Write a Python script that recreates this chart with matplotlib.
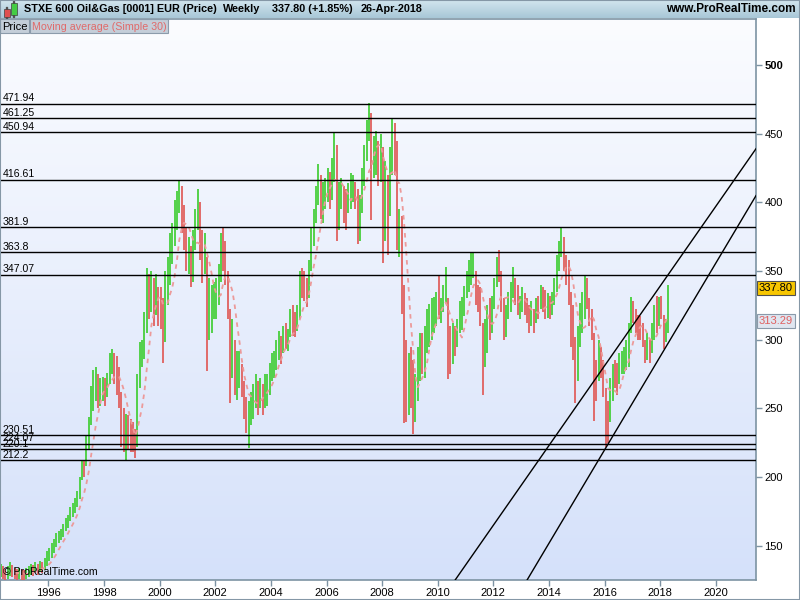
import datetime
import matplotlib
matplotlib.use("Agg")
import matplotlib.pyplot as plt
import matplotlib.dates as mdates
from matplotlib.colors import LinearSegmentedColormap
from matplotlib.patches import Rectangle
from matplotlib.transforms import blended_transform_factory
import numpy as np
import pandas as pd

plt.rcParams['font.family'] = ['Liberation Sans', 'DejaVu Sans']

# monthly bars Apr-1994 .. Apr-2018 (one row per year)
close = [
    132, 130, 128, 131, 133, 131, 130, 128, 130,
    129, 128, 130, 131, 133, 132, 134, 133, 135, 134, 137, 140,
    144, 148, 150, 154, 157, 158, 161, 165, 168, 173, 176, 180,
    185, 195, 206, 204, 222, 238, 260, 262, 272, 262, 264, 266,
    262, 270, 284, 286, 278, 270, 262, 235, 232, 238, 230, 228,
    225, 222, 268, 290, 292, 310, 340, 335, 338, 325, 335, 328,
    318, 300, 335, 345, 368, 372, 385, 398, 405, 390, 378, 360,
    362, 350, 365, 385, 395, 370, 360, 360, 305, 320, 325, 330,
    335, 345, 368, 365, 355, 328, 290, 295, 268, 275, 278, 265,
    250, 240, 248, 255, 258, 265, 258, 262, 255, 265, 268, 278,
    282, 285, 290, 300, 295, 305, 300, 302, 315, 312, 310, 318,
    345, 340, 335, 332, 352, 375, 390, 405, 418, 400, 408, 412,
    418, 412, 425, 440, 395, 400, 410, 398, 392, 405, 410, 412,
    405, 385, 400, 420, 435, 455, 460, 425, 440, 445, 430, 440,
    395, 410, 395, 430, 452, 445, 380, 385, 340, 270, 265, 270,
    265, 245, 258, 285, 295, 290, 300, 312, 318, 318, 322, 328,
    322, 325, 335, 340, 290, 285, 298, 295, 305, 318, 320, 335,
    345, 350, 352, 355, 335, 330, 315, 285, 292, 318, 315, 325,
    340, 352, 348, 325, 305, 318, 328, 335, 340, 330, 325, 325,
    330, 322, 320, 315, 318, 312, 325, 322, 332, 330, 325, 328,
    322, 330, 340, 355, 365, 372, 360, 350, 335, 315, 295, 280,
    295, 318, 320, 340, 330, 315, 305, 275, 265, 285, 280, 265,
    245, 240, 262, 275, 272, 270, 280, 285, 288, 292, 305, 325,
    318, 312, 308, 305, 298, 290, 300, 290, 308, 318, 315, 325,
    322, 300, 305, 337.8,
]
low = [
    127, 126, 125, 126, 128, 127, 126, 125, 126,
    125, 125, 126, 127, 129, 128, 130, 129, 131, 130, 132, 135,
    139, 141, 145, 149, 152, 154, 156, 161, 163, 168, 171, 174,
    178, 184, 198, 200, 208, 220, 238, 248, 255, 250, 252, 255,
    252, 258, 268, 275, 268, 260, 250, 222, 218, 212, 220, 218,
    218, 214, 222, 265, 280, 286, 305, 315, 320, 310, 318, 310,
    308, 283, 298, 325, 340, 355, 368, 380, 392, 378, 365, 350,
    348, 338, 342, 365, 380, 358, 341, 348, 277, 300, 305, 315,
    315, 325, 342, 350, 340, 315, 254, 272, 260, 256, 265, 258,
    242, 232, 221, 238, 242, 250, 245, 250, 245, 250, 252, 260,
    270, 272, 278, 285, 282, 290, 293, 292, 302, 303, 302, 306,
    315, 330, 328, 324, 330, 350, 368, 385, 398, 388, 385, 395,
    400, 395, 402, 415, 372, 380, 395, 385, 380, 392, 395, 400,
    395, 370, 372, 392, 412, 430, 445, 387, 418, 420, 412, 415,
    356, 372, 362, 390, 420, 420, 365, 360, 319, 239, 240, 245,
    250, 231, 240, 255, 270, 275, 272, 290, 295, 300, 305, 310,
    315, 312, 320, 326, 271, 275, 282, 288, 295, 305, 307, 317,
    330, 335, 340, 345, 325, 320, 310, 260, 280, 290, 300, 305,
    322, 338, 342, 320, 300, 302, 315, 320, 330, 325, 318, 315,
    320, 318, 312, 305, 310, 305, 312, 315, 322, 320, 315, 316,
    315, 318, 325, 335, 350, 360, 350, 340, 325, 295, 285, 254,
    270, 295, 305, 315, 322, 310, 300, 241, 255, 270, 272, 258,
    222, 225, 240, 255, 265, 260, 268, 275, 275, 278, 280, 305,
    312, 305, 300, 300, 295, 283, 285, 283, 290, 300, 305, 310,
    315, 293, 298, 305,
]
high = [
    137, 135, 133, 135, 138, 136, 134, 133, 134,
    133, 132, 134, 135, 137, 136, 138, 137, 139, 138, 141, 146,
    148, 152, 155, 159, 161, 162, 166, 170, 172, 178, 181, 185,
    190, 200, 212, 212, 230, 244, 266, 278, 280, 275, 272, 273,
    272, 276, 290, 293, 290, 288, 280, 262, 250, 246, 245, 242,
    240, 235, 275, 298, 300, 320, 352, 348, 350, 345, 348, 338,
    338, 330, 350, 360, 378, 385, 402, 408, 416, 412, 398, 382,
    375, 368, 380, 395, 410, 400, 380, 378, 360, 345, 340, 342,
    345, 355, 378, 381, 372, 350, 322, 315, 300, 292, 292, 282,
    270, 258, 255, 262, 268, 275, 270, 272, 268, 275, 275, 283,
    290, 292, 300, 306, 303, 310, 312, 308, 322, 325, 320, 325,
    350, 352, 350, 345, 358, 382, 395, 412, 428, 420, 415, 418,
    425, 422, 432, 451, 442, 415, 418, 412, 410, 414, 421, 420,
    415, 410, 405, 425, 442, 460, 472, 465, 448, 452, 445, 450,
    440, 430, 420, 440, 461, 458, 445, 395, 390, 340, 300, 290,
    295, 285, 275, 295, 305, 305, 310, 322, 326, 330, 331, 335,
    346, 330, 340, 353, 330, 310, 312, 310, 315, 328, 331, 339,
    350, 358, 363, 364, 350, 340, 338, 312, 315, 325, 330, 332,
    345, 360, 365, 350, 330, 325, 335, 342, 353, 345, 340, 332,
    338, 334, 330, 325, 328, 322, 330, 332, 340, 338, 336, 334,
    332, 335, 345, 362, 372, 381, 375, 362, 358, 335, 325, 302,
    310, 327, 335, 346, 345, 330, 322, 305, 285, 300, 295, 285,
    265, 255, 272, 282, 285, 283, 290, 292, 295, 300, 312, 331,
    328, 322, 318, 317, 312, 300, 305, 300, 312, 325, 332, 331,
    332, 318, 315, 340,
]
first_month = "1994-04-01"

levels = [471.94, 461.25, 450.94, 416.61, 381.9, 363.8, 347.07, 230.51, 224.07, 220.1, 212.2]
upper_channel = [("2010-08-18", 125.0), ("2021-06-10", 438.8)]
lower_channel = [("2013-03-20", 125.0), ("2021-06-10", 404.6)]

last_close = 337.80
last_change = 1.85
last_ma = 313.29
ma_window = 7  # 30 weeks ~ 7 months
year_ticks = list(range(1996, 2021, 2))
price_ticks = list(range(150, 501, 50))

GREEN = '#47cf3c'
RED = '#e0605e'
FRAME = '#7d93a3'

W, H = 800, 600


def fx(px):
    return px / W


def fy(py):
    return 1 - py / H


dates = pd.date_range(first_month, periods=len(close), freq="MS") + pd.Timedelta(days=14)
x = mdates.date2num(dates.to_pydatetime())
c = np.array(close, dtype=float)
lo = np.array(low, dtype=float)
hi = np.array(high, dtype=float)
op = np.concatenate([[c[0]], c[:-1]])
up = c >= op
ma = pd.Series(c).rolling(ma_window).mean().values

fig = plt.figure(figsize=(8, 6), dpi=100)
fig.patch.set_facecolor('white')

L, R, T, B = 0, 756, 19, 580
rect = [fx(L), fy(B), fx(R) - fx(L), fy(T) - fy(B)]

# plot background gradient
bg = fig.add_axes(rect, zorder=0)
bg_cmap = LinearSegmentedColormap.from_list('bg', ['#d5e1fa', '#fbfcff'])
bg.imshow(np.linspace(0, 1, 256)[:, None], cmap=bg_cmap, aspect='auto',
          extent=[0, 1, 0, 1], origin='lower')
bg.axis('off')

ax = fig.add_axes(rect, zorder=1)
ax.patch.set_alpha(0)

ax.vlines(x[up], lo[up], hi[up], color=GREEN, lw=1.3, zorder=3)
ax.vlines(x[~up], lo[~up], hi[~up], color=RED, lw=1.3, zorder=3)
ax.plot(x, ma, color='#ec9a9a', lw=1.3, dashes=(2.5, 2.5), zorder=4)

trans_lv = blended_transform_factory(ax.transAxes, ax.transData)
for lv in levels:
    ax.axhline(lv, color='black', lw=1.0, zorder=5)
    ax.text(0.003, lv + 0.4, str(lv), transform=trans_lv, fontsize=7.6,
            va='bottom', ha='left', zorder=6)

for chan in (upper_channel, lower_channel):
    (d0, v0), (d1, v1) = chan
    ax.axline((mdates.datestr2num(d0), v0), (mdates.datestr2num(d1), v1),
              color='black', lw=1.0, zorder=5)

ax.set_xlim(mdates.datestr2num("1994-04-05"), mdates.datestr2num("2021-06-13"))
ax.set_ylim(125, 533.5)

ax.set_xticks([mdates.date2num(datetime.date(y, 1, 1)) for y in year_ticks],
              labels=[str(y) for y in year_ticks])
ax.yaxis.tick_right()
ax.set_yticks(price_ticks, labels=[str(v) for v in price_ticks])
for lab in ax.get_yticklabels():
    if lab.get_text() == '500':
        lab.set_fontweight('bold')
ax.tick_params(axis='both', length=4, width=1, color=FRAME, labelsize=8, pad=2)
for sp in ax.spines.values():
    sp.set_color(FRAME)
    sp.set_linewidth(1.2)

ax.text(0.004, 0.006, "\u00a9 ProRealTime.com", transform=ax.transAxes,
        fontsize=7.6, va='bottom', ha='left', zorder=6)

# last value boxes on the right axis
trans_r = blended_transform_factory(ax.transAxes, ax.transData)
ax.text(1.004, last_close, f"{last_close:.2f}", transform=trans_r, fontsize=8,
        va='center', ha='left', clip_on=False, zorder=7,
        bbox=dict(boxstyle='square,pad=0.18', fc='#f7c600', ec='#505050', lw=0.8))
ax.text(1.004, last_ma, f"{last_ma:.2f}", transform=trans_r, fontsize=8,
        color='#e06060', va='center', ha='left', clip_on=False, zorder=7,
        bbox=dict(boxstyle='square,pad=0.18', fc='#dfe6f0', ec='#8a9aaa', lw=0.8))

# header bar
hdr = fig.add_axes([0, fy(18), 1, 18 / H], zorder=2)
hdr_cmap = LinearSegmentedColormap.from_list('hdr', ['#a8c7d7', '#d2e5ee'])
hdr.imshow(np.linspace(0, 1, 64)[:, None], cmap=hdr_cmap, aspect='auto',
           extent=[0, 1, 0, 1], origin='lower')
hdr.axis('off')

# candle icon
fig.add_artist(Rectangle((fx(6), fy(19)), fx(1), 12 / H, color='#505050', zorder=8))
fig.add_artist(Rectangle((fx(3.5), fy(17)), fx(6), 8 / H, fc='#e05050', ec='#404040', lw=0.5, zorder=9))
fig.add_artist(Rectangle((fx(13), fy(17)), fx(1), 16 / H, color='#505050', zorder=8))
fig.add_artist(Rectangle((fx(10.5), fy(15)), fx(6), 12 / H, fc='#44cc44', ec='#404040', lw=0.5, zorder=9))

hy = fy(9.5)
hsize = 7.8
fig.text(fx(24), hy, "STXE 600 Oil&Gas [0001] EUR (Price)", fontsize=hsize,
         weight='bold', va='center', zorder=10)
fig.text(fx(223), hy, "Weekly", fontsize=hsize, weight='bold', va='center', zorder=10)
fig.text(fx(272), hy, f"{last_close:.2f} (+{last_change:.2f}%)", fontsize=hsize,
         weight='bold', va='center', zorder=10)
fig.text(fx(361), hy, "26-Apr-2018", fontsize=hsize, weight='bold', va='center', zorder=10)
fig.text(fx(796), hy, "www.ProRealTime.com", fontsize=8.5, weight='bold',
         va='center', ha='right', zorder=10)

# legend boxes
fig.add_artist(Rectangle((fx(0), fy(33)), fx(29), 14 / H, fc='#c4ced9', ec='#8b9bab', lw=0.8, zorder=8))
fig.add_artist(Rectangle((fx(30), fy(33)), fx(138), 14 / H, fc='#c4ced9', ec='#8b9bab', lw=0.8, zorder=8))
fig.text(fx(2), fy(26.5), "Price", fontsize=8, va='center', zorder=10)
fig.text(fx(32), fy(26.5), "Moving average (Simple 30)", fontsize=7.7,
         color='#e06a6a', va='center', zorder=10)

fig.add_artist(Rectangle((0, 0), 1, 1, fill=False, ec='#8597a6', lw=1.5, zorder=12))

fig.savefig("out.png", dpi=100)
